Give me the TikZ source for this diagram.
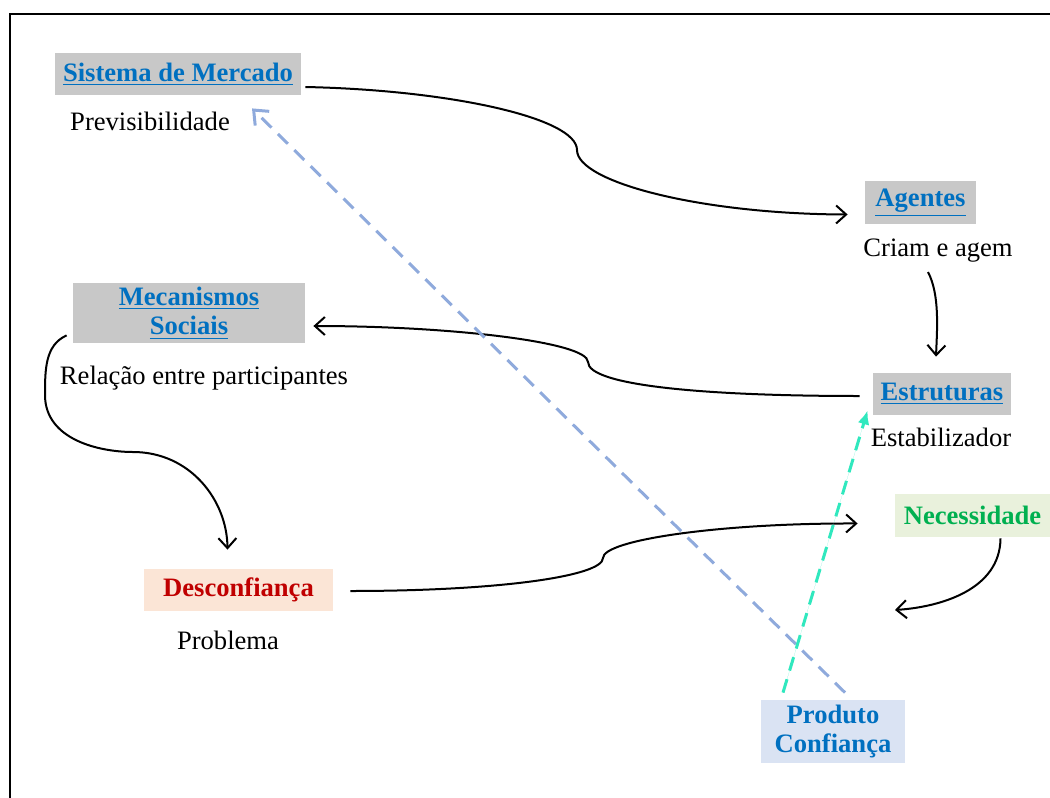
\documentclass[tikz,border=0pt]{standalone}
\usepackage{fontspec}
\setmainfont{Liberation Serif}
\usepackage{xcolor}
\usepackage{tikz}
\usetikzlibrary{arrows.meta, calc}
\definecolor{box-gray}{RGB}{200,200,200}
\definecolor{link-blue}{RGB}{0,112,192}
\definecolor{need-fill}{RGB}{233,241,220}
\definecolor{need-text}{RGB}{0,176,80}
\definecolor{doubt-fill}{RGB}{251,229,214}
\definecolor{doubt-text}{RGB}{192,0,0}
\definecolor{trust-fill}{RGB}{218,227,243}
\definecolor{dash-cyan}{RGB}{48,232,190}
\definecolor{dash-blue}{RGB}{143,170,220}
\tikzset{
    concept/.style = {fill=box-gray, text=link-blue, font=\fontsize{13.3}{14.8}\selectfont\bfseries, inner sep=0pt, align=center},
    need/.style = {concept, fill=need-fill, text=need-text},
    doubt/.style = {concept, fill=doubt-fill, text=doubt-text},
    trust/.style = {concept, fill=trust-fill},
    note/.style = {inner sep=0pt},
    link/.style = {draw=black, line width=1pt, -{Straight Barb[length=5pt,width=9pt]}},
    trust-link/.style = {line width=1.5pt, dash pattern=on 7pt off 4.5pt},
}

\begin{document}
\begin{tikzpicture}[x=0.5pt, y=-0.5pt, font=\fontsize{13.3}{14.8}\selectfont]

\useasboundingbox (0,0) rectangle (1050,798);
\begin{scope}
\clip (0,0) rectangle (1050,798);
\draw[line width=0.8pt] (10,14) rectangle (1080,830);
\end{scope}

\node(SM)[concept, minimum width=123pt, minimum height=21pt] at (178,74) {\underline{Sistema de Mercado}};
\node(Pr)[note] at (150,121) {Previsibilidade};

\node(Ag)[concept, minimum width=55.5pt, minimum height=21.5pt] at (920.5,202.5) {\underline{Agentes}};
\node(Cr)[note] at (938,251) {Criam e agem};

\node(MS)[concept, minimum width=116pt, minimum height=30pt] at (189,313) {\underline{Mecanismos}\\\underline{Sociais}};
\node(Re)[note] at (204,378) {Relação entre participantes};

\node(Es)[concept, minimum width=69pt, minimum height=21pt] at (942,394) {\underline{Estruturas}};
\node(Eb)[note] at (941,437) {Estabilizador};

\node(Ne)[need, minimum width=77.5pt, minimum height=21.5pt] at (972.5,515.5) {Necessidade};
\coordinate (Ne-end) at (895,610);

\node(De)[doubt, minimum width=94.5pt, minimum height=21pt] at (238.5,590) {Desconfiança};
\node(Pb)[note] at (228,640) {Problema};

\node(PC)[trust, minimum width=72pt, minimum height=31.5pt] at (833,731.5) {Produto\\Confiança};

% curved connectors
\draw[link] ([shift={(4,13)}]SM.east) .. controls (450,90) and (577,118) .. (577,150)
    .. controls (577,182) and (700,214) .. ([shift={(-17,12)}]Ag.west);
\draw[link] ([shift={(-10,21)}]Cr.center) .. controls (940,295) and (937,330) .. ([shift={(-6,-16)}]Es.north);
\draw[link] ([shift={(-13,2)}]Es.west) .. controls (700,396) and (588,385) .. (588,362)
    .. controls (588,342) and (450,326) .. ([shift={(8,13)}]MS.east);
\draw[link] ([shift={(-6,-8)}]MS.south west) .. controls (45,345) and (45,370) .. (45,395)
    .. controls (45,440) and (100,452) .. (133,452)
    .. controls (190,452) and (227,500) .. ([shift={(-11,-19)}]De.north);
\draw[link] ([shift={(17,1)}]De.east) .. controls (500,591) and (603,576) .. (603,558)
    .. controls (603,540) and (720,523) .. ([shift={(-37,8)}]Ne.west);
\draw[link] ([shift={(28,1)}]Ne.south) .. controls (1000,590) and (940,607) .. (Ne-end);

% dashed links from the product
\draw[trust-link, draw=dash-blue, -{Straight Barb[length=6pt,width=10pt]}] ([shift={(12,-7)}]PC.north) -- ([shift={(74,13)}]SM.south);
\draw[trust-link, draw=dash-cyan, fill=dash-cyan, -{Latex[length=7pt,width=6pt]}] ([shift={(-50,-7)}]PC.north) -- ([shift={(-5,-5)}]Es.south west);

\end{tikzpicture}
\end{document}
